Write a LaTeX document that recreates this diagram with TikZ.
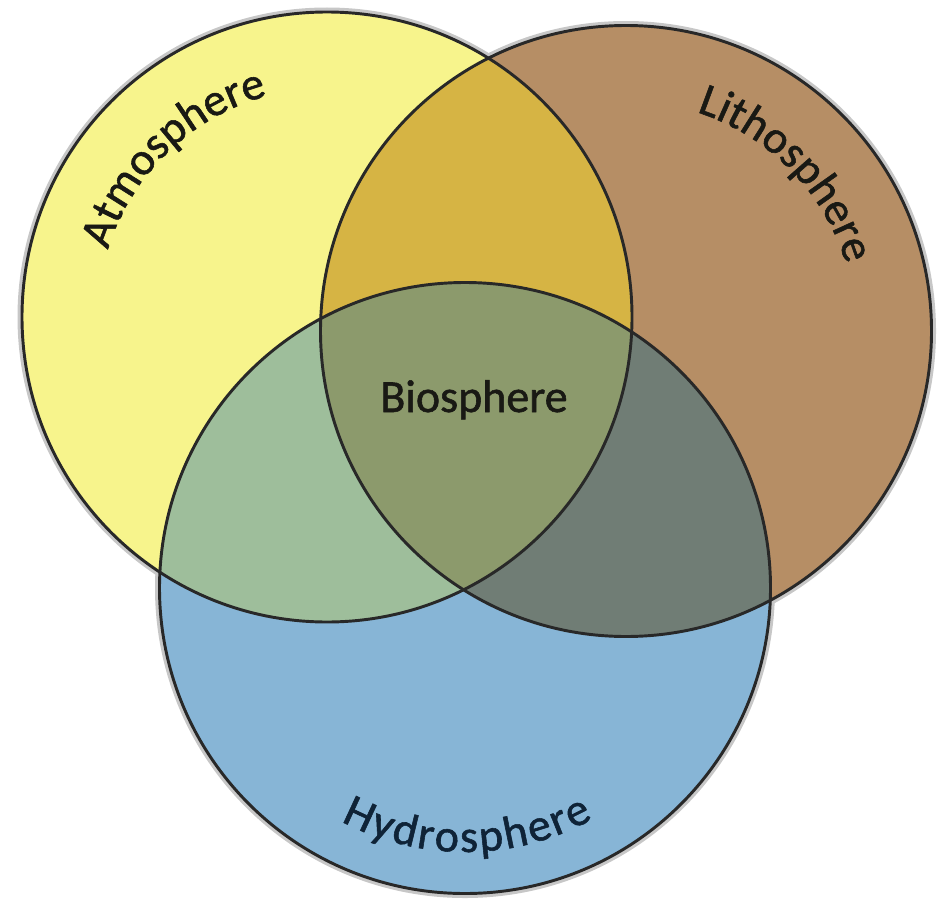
\documentclass[tikz,border=0pt]{standalone}
\usepackage{fontspec}
\setmainfont{Carlito}
\newfontfamily\spherefamily{Carlito}[FakeBold=1.2]
\usetikzlibrary{decorations.text}

\definecolor{atmYellow}{RGB}{247,244,140}
\definecolor{lithBrown}{RGB}{182,142,101}
\definecolor{hydroBlue}{RGB}{135,181,214}
\definecolor{atmLith}{RGB}{214,180,68}
\definecolor{atmHydro}{RGB}{158,190,155}
\definecolor{lithHydro}{RGB}{112,125,117}
\definecolor{allThree}{RGB}{140,154,108}
\definecolor{rimGrey}{RGB}{40,40,40}
\definecolor{inkBlack}{RGB}{25,25,20}
\definecolor{inkNavy}{RGB}{15,35,55}

\newcommand{\spherefont}{\spherefamily\fontsize{34.5}{40}\selectfont}

\tikzset{every picture/.style={line width=0.75pt}}
\tikzset{
  rim/.style={draw=rimGrey, line width=2.2pt},
  halo/.style={draw=black!22, line width=3pt},
  curvedlabel/.style={decorate, decoration={text along path, text align=center, text color=inkBlack}}
}

\begin{document}
\begin{tikzpicture}[x=0.75pt,y=0.75pt,yscale=-1,xscale=1]
\useasboundingbox (0,0) rectangle (944,899);

\coordinate (atm) at (327,317);
\coordinate (lith) at (626,331);
\coordinate (hydro) at (465,588);

%Shadow round the outer edges
\draw [halo] (atm) circle [radius=307.5];
\draw [halo] (lith) circle [radius=308];
\draw [halo] (hydro) circle [radius=308];

%Shape: Circle fills
\fill [atmYellow] (atm) circle [radius=305];
\fill [lithBrown] (lith) circle [radius=305.5];
\fill [hydroBlue] (hydro) circle [radius=305.5];

%Overlaps
\begin{scope}
\clip (atm) circle [radius=305];
\fill [atmLith] (lith) circle [radius=305.5];
\fill [atmHydro] (hydro) circle [radius=305.5];
\end{scope}
\begin{scope}
\clip (lith) circle [radius=305.5];
\fill [lithHydro] (hydro) circle [radius=305.5];
\end{scope}
\begin{scope}
\clip (atm) circle [radius=305];
\clip (lith) circle [radius=305.5];
\fill [allThree] (hydro) circle [radius=305.5];
\end{scope}

%Shape: Circle outlines
\draw [rim] (atm) circle [radius=305];
\draw [rim] (lith) circle [radius=305.5];
\draw [rim] (hydro) circle [radius=305.5];

% Text Node
\node [anchor=base, inner sep=0.75pt, text=inkBlack, font=\spherefont] (bio) at (474,412) {Biosphere};

%Curved labels
\path [curvedlabel, decoration={text={|\spherefont|Atmosphere}}] (atm) ++(181:229) arc [start angle=181, end angle=271, radius=229];
\path [curvedlabel, decoration={text={|\spherefont|Lithosphere}}] (lith) ++(271:230) arc [start angle=271, end angle=360, radius=230];
\path [curvedlabel, decoration={text={|\spherefont|Hydrosphere}, text align=fit to path, text color=inkNavy}] (hydro) ++(118:264) arc [start angle=118, end angle=61, radius=264];

\end{tikzpicture}
\end{document}
